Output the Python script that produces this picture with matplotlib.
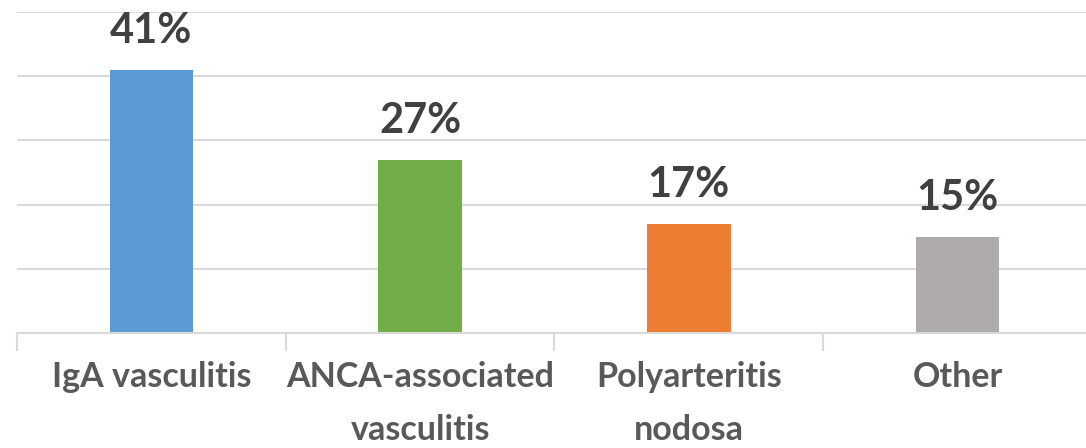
import matplotlib
matplotlib.use("Agg")
import matplotlib.pyplot as plt

categories = ["IgA vasculitis", "ANCA-associated\nvasculitis", "Polyarteritis\nnodosa", "Other"]
values = [41, 27, 17, 15]
colors = ["#5B9BD5", "#70AD47", "#ED7D31", "#AFABAB"]

plt.rcParams['font.family'] = ['Lato', 'DejaVu Sans']

fig = plt.figure(figsize=(10.86, 4.48), dpi=100)
W, H = 1086, 448
left, right, top, bottom = 17, 1092, 12, 333
ax = fig.add_axes([left / W, (H - bottom) / H, (right - left) / W, (bottom - top) / H])

x = list(range(len(categories)))
ax.bar(x, values, width=0.31, color=colors, zorder=3)
ax.set_xlim(-0.5, len(categories) - 0.5)
ax.set_ylim(0, 50)
ax.set_yticks([0, 10, 20, 30, 40, 50])
ax.yaxis.grid(True, color="#D9D9D9", linewidth=1.5, zorder=0)
ax.tick_params(axis='y', left=False, labelleft=False)
for s in ["top", "right", "left"]:
    ax.spines[s].set_visible(False)
ax.spines["bottom"].set_color("#D9D9D9")
ax.spines["bottom"].set_linewidth(1.5)
ax.spines["bottom"].set_zorder(4)

# category boundary ticks
ax.set_xticks([i - 0.5 for i in range(len(categories) + 1)])
ax.set_xticklabels([])
ax.tick_params(axis='x', length=13, width=1.5, color="#D9D9D9")
ax.set_xticks(x, minor=True)
ax.set_xticklabels(categories, minor=True, fontsize=24.5, fontweight='bold', color="#595959", linespacing=1.8)
ax.tick_params(axis='x', which='minor', length=0, pad=20)

for xi, v in zip(x, values):
    ax.annotate(f"{v}%", (xi, v), xytext=(0, 14), textcoords='offset points',
                ha='center', va='bottom', fontsize=30, fontweight='bold', color="#404040",
                clip_on=False)

fig.savefig("out.png", dpi=100)
